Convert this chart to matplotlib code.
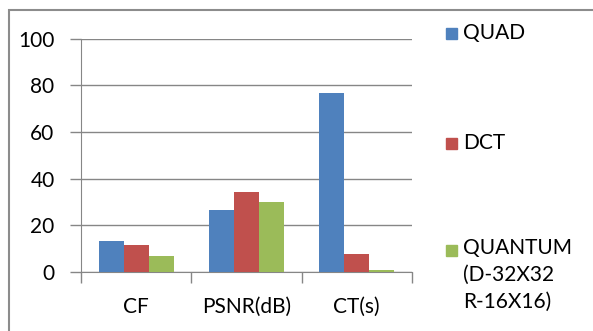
import numpy as np
import matplotlib.pyplot as plt
from matplotlib.patches import Rectangle

plt.rcParams['font.family'] = ['Lato', 'DejaVu Sans']

categories = ['CF', 'PSNR(dB)', 'CT(s)']
series_names = ['QUAD', 'DCT', 'QUANTUM\n(D-32X32\nR-16X16)']
quad = [13.3, 26.4, 76.5]
dct = [11.7, 34.2, 7.6]
quantum = [7.0, 30.2, 0.7]
colors = ['#4F81BD', '#C0504D', '#9BBB59']

fig = plt.figure(figsize=(5.93, 3.31), dpi=100)
ax = fig.add_axes([0.1366, 0.178, 0.558, 0.7054])

x = np.arange(len(categories))
w = 0.227
for i, (vals, c) in enumerate(zip([quad, dct, quantum], colors)):
    ax.bar(x + (i - 1) * w, vals, w, color=c, zorder=3)

ax.set_xlim(-0.5, 2.5)
ax.set_ylim(0, 100)
ax.set_yticks(range(0, 101, 20))
ax.yaxis.grid(True, color='#868686', lw=1.0, zorder=0)
ax.set_xticks([-0.5, 0.5, 1.5, 2.5])
ax.set_xticklabels([])
ax.set_xticks(x, minor=True)
ax.set_xticklabels(categories, minor=True)
ax.tick_params(axis='x', which='major', length=8, color='#868686', width=1)
ax.tick_params(axis='x', which='minor', length=0, pad=18, labelsize=15)
ax.tick_params(axis='y', length=8, color='#868686', width=1, pad=11, labelsize=15)
for s in ['top', 'right']:
    ax.spines[s].set_visible(False)
for s in ['left', 'bottom']:
    ax.spines[s].set_color('#868686')

# legend drawn by hand to keep the spread-out layout
leg_y = [1 - 33 / 331, 1 - 143 / 331, 1 - 250 / 331]
for name, c, ly in zip(series_names, colors, leg_y):
    fig.patches.append(Rectangle((446 / 593, ly - 6 / 331), 11 / 593, 11 / 331,
                                 transform=fig.transFigure, color=c))
    if '\n' in name:
        fig.text(463 / 593, ly + 12 / 331, name, fontsize=15, va='top',
                 linespacing=1.42)
    else:
        fig.text(463 / 593, ly, name, fontsize=15, va='center')

# outer frame
fig.patches.append(Rectangle((9 / 593, -0.2), 1.2, 1.2 - 10 / 331,
                             transform=fig.transFigure, fill=False,
                             edgecolor='#8c8c8c', lw=1.5))

fig.savefig('out.png', dpi=100)
